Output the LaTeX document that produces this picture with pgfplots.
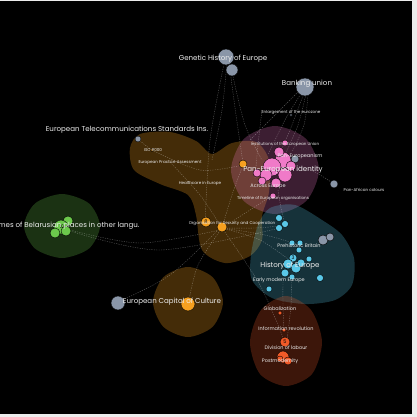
\documentclass[border=0pt]{standalone}
\usepackage{pgfplots}
\pgfplotsset{compat=1.18}
\usepackage{fontspec}
\setmainfont{Poppins}
\definecolor{pnk}{HTML}{F07AC8}
\definecolor{org}{HTML}{F5A020}
\definecolor{blu}{HTML}{5AC8E8}
\definecolor{rd}{HTML}{F05A28}
\definecolor{grn}{HTML}{6CC84C}
\definecolor{gry}{HTML}{8A96A8}
\definecolor{txt}{HTML}{EDEDED}
\pgfplotsset{
  netnode/.style={scatter, only marks, mark=*,
    scatter/use mapped color={draw=none, fill=#1},
    visualization depends on={\thisrow{r}\as\rr},
    scatter/@pre marker code/.append style={/tikz/mark size=\rr}},
  edge/.style={draw=white, draw opacity=0.35, line width=0.4pt, dash pattern=on 1.2pt off 1.2pt, smooth, mark=none},
}
\newcommand{\labbig}[1]{{\fontsize{7.1}{8}\selectfont #1}}
\newcommand{\labmid}[1]{{\fontsize{5}{6}\selectfont #1}}
\newcommand{\labsml}[1]{{\fontsize{4.1}{5}\selectfont #1}}
\begin{document}
\begin{tikzpicture}
\begin{axis}[
  width=417bp, height=417bp, scale only axis,
  xmin=0, xmax=417, ymin=0, ymax=417, y dir=reverse,
  hide axis, clip=true, clip marker paths=true,
]
% background
\addplot[fill=white!85!gray, draw=none] coordinates {(0,0) (417,0) (417,417) (0,417)} -- cycle;
\addplot[fill=black, draw=none] coordinates {(0,1.5) (412,1.5) (412,414) (0,414)} -- cycle;

% cluster hulls
\addplot[smooth cycle, fill=org, fill opacity=0.28, draw=none] coordinates {
 (130,148) (140,134) (170,132) (196,141) (212,154) (232,143) (256,142) (269,160)
 (269,192) (262,216) (262,240) (250,256) (225,263) (202,250) (196,215) (188,195) (160,184) (134,170)};
\addplot[smooth cycle, fill=org, fill opacity=0.28, draw=none] coordinates {
 (223,302) (212.7,326.7) (188,337) (163.3,326.7) (153,302) (163.3,277.3) (188,267) (212.7,277.3)};
\addplot[smooth cycle, fill=pnk, fill opacity=0.25, draw=none] coordinates {
 (319,170) (306.1,201.1) (275,214) (243.9,201.1) (231,170) (243.9,138.9) (275,126) (306.1,138.9)};
\addplot[smooth cycle, fill=blu, fill opacity=0.25, draw=none] coordinates {
 (258,225) (270,208) (295,205) (322,220) (342,235) (354,258) (352,285) (335,300) (305,304) (272,298) (252,280) (251,255)};
\addplot[smooth cycle, fill=rd, fill opacity=0.25, draw=none] coordinates {
 (322,342) (312,374) (286,386) (260,374) (250,342) (261,310) (286,296) (311,310)};
\addplot[smooth cycle, fill=grn, fill opacity=0.25, draw=none] coordinates {
 (100,226) (88.9,248.6) (62,258) (35.1,248.6) (24,226) (35.1,203.4) (62,194) (88.9,203.4)};

% edges
\addplot[edge] coordinates {(227,62) (222,110) (212,160)};
\addplot[edge] coordinates {(230,70) (236,115) (243,163)};
\addplot[edge] coordinates {(232,72) (245,125) (262,160)};
\addplot[edge] coordinates {(224,64) (210,140) (205,225)};
\addplot[edge] coordinates {(302,92) (285,120) (268,155)};
\addplot[edge] coordinates {(304,93) (292,125) (278,158)};
\addplot[edge] coordinates {(306,94) (298,125) (285,155)};
\addplot[edge] coordinates {(308,95) (304,125) (292,152)};
\addplot[edge] coordinates {(300,90) (275,115) (250,140)};
\addplot[edge] coordinates {(138,139) (145,145) (152,150)};
\addplot[edge] coordinates {(118,302) (170,275) (218,230)};
\addplot[edge] coordinates {(188,305) (198,265) (222,228)};
\addplot[edge] coordinates {(70,230) (140,243) (220,230)};
\addplot[edge] coordinates {(70,231) (160,250) (280,228)};
\addplot[edge] coordinates {(222,228) (255,228) (280,226)};
\addplot[edge] coordinates {(222,228) (260,240) (292,262)};
\addplot[edge] coordinates {(222,228) (265,235) (300,245)};
\addplot[edge] coordinates {(222,228) (260,285) (284,340)};
\addplot[edge] coordinates {(243,165) (232,195) (222,228)};
\addplot[edge] coordinates {(283,272) (283,305) (284,332)};
\addplot[edge] coordinates {(292,270) (291,305) (287,340)};
\addplot[edge] coordinates {(278,190) (281,208) (285,224)};
\addplot[edge] coordinates {(334,184) (315,172) (295,165)};
\addplot[edge] coordinates {(152,150) (200,170) (243,165)};
\addplot[edge] coordinates {(262,110) (258,145) (255,178)};
\addplot[edge] coordinates {(170,162) (200,195) (222,228)};
\addplot[edge] coordinates {(273,195) (250,210) (222,228)};

% nodes
\addplot[netnode=gry] table {
x y r
226 57 8
232 70 6
305 87 9
138 139 3
118 303 7
295 159 4
334 184 4
323 240 5
330 237 4
291 115 1.5
};
\addplot[netnode=pnk] table {
x y r
283 160 8
272 167 9
266 175 6
285 175 7
291 166 5
262 181 4
276 183 5
257 173 4
279 152 5
285 143 3
273 196 3
};
\addplot[netnode=org] table {
x y r
243 164 4
206 222 5
222 227 5
188 304 7
152 150 1.5
};
\addplot[netnode=blu] table {
x y r
279 218 3.5
285 224 3.5
279 228 3.5
292 243 3
300 243 3
299 250 3
309 259 3
293 258 4
288 264 5
296 268 5
285 273 4
301 263 4
292 277 3
320 278 3.5
269 289 3
};
\addplot[netnode=rd] table {
x y r
285 342 5
283 357 6
288 361 4
280 359 3
284 330 2
280 313 2
};
\addplot[netnode=grn] table {
x y r
68 221 5
61 227 7
55 233 5
66 231 5
};

% cluster numbers
\node[text=black] at (axis cs:277,171) {\labmid{0}};
\node[text=black] at (axis cs:206,222) {\labmid{8}};
\node[text=black] at (axis cs:293,258) {\labmid{3}};
\node[text=black] at (axis cs:285,342) {\labmid{5}};
\node[text=black] at (axis cs:62,227) {\labmid{10}};

% labels
\node[text=txt] at (axis cs:223,59) {\labbig{Genetic History of Europe}};
\node[text=txt] at (axis cs:307,84) {\labbig{Banking union}};
\node[text=txt] at (axis cs:291,112) {\labsml{Enlargement of the eurozone}};
\node[text=txt] at (axis cs:127,130) {\labbig{European Telecommunications Standards Ins.}};
\node[text=txt] at (axis cs:153,150) {\labsml{ISO 9000}};
\node[text=txt] at (axis cs:170,162) {\labsml{European Practice Assessment}};
\node[text=txt] at (axis cs:285,144) {\labsml{Institutions of the European Union}};
\node[text=txt] at (axis cs:300,156) {\labmid{Pan-Europeanism}};
\node[text=txt] at (axis cs:283,170) {\labbig{Pan-European identity}};
\node[text=txt] at (axis cs:364,190) {\labsml{Pan-African colours}};
\node[text=txt] at (axis cs:200,183) {\labsml{Healthcare in Europe}};
\node[text=txt] at (axis cs:268,186) {\labmid{Across Europe}};
\node[text=txt] at (axis cs:273,198) {\labsml{Timeline of European organisations}};
\node[text=txt] at (axis cs:232,223) {\labsml{Organisation for Security and Cooperation}};
\node[text=txt, anchor=east] at (axis cs:143,226) {\labbig{Names of Belarusian places in other langu.}};
\node[text=txt] at (axis cs:299,246) {\labmid{Prehistoric Britain}};
\node[text=txt] at (axis cs:290,266) {\labbig{History of Europe}};
\node[text=txt] at (axis cs:279,280) {\labmid{Early modern Europe}};
\node[text=txt] at (axis cs:172,302) {\labbig{European Capital of Culture}};
\node[text=txt] at (axis cs:280,309) {\labmid{Globalization}};
\node[text=txt] at (axis cs:286,329) {\labmid{Information revolution}};
\node[text=txt] at (axis cs:286,348) {\labmid{Division of labour}};
\node[text=txt] at (axis cs:280,361) {\labmid{Postmodernity}};
\end{axis}
\pgfresetboundingbox
\path[use as bounding box] (current axis.south west) rectangle (current axis.north east);
\end{tikzpicture}
\end{document}
